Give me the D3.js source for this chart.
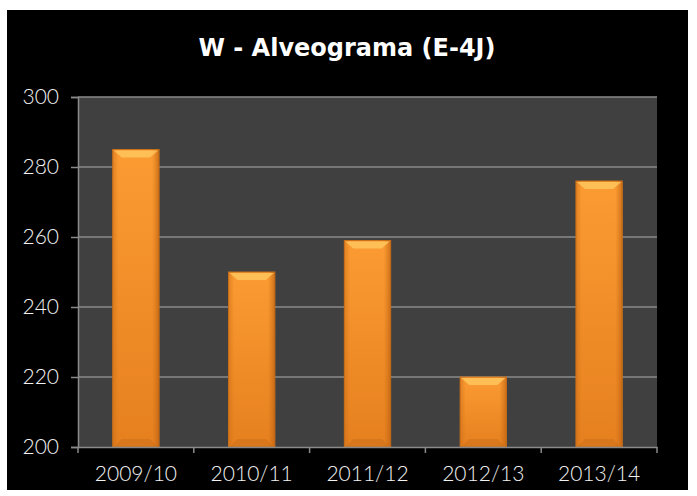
<!DOCTYPE html>
<html>
<head>
<meta charset="utf-8">
<script src="https://cdn.jsdelivr.net/npm/d3@7"></script>
<style>
  body { margin: 0; background: #ffffff; }
  text { font-family: "Lato", "DejaVu Sans", sans-serif; }
</style>
</head>
<body>
<div id="chart"></div>
<script>
// chart data
var seasons = ["2009/10", "2010/11", "2011/12", "2012/13", "2013/14"];
var wValues = [285, 250, 259, 220, 276];
var yTicks = [200, 220, 240, 260, 280, 300];

var w = 697;
var h = 496;
var plotLeft = 78, plotRight = 657, plotTop = 97, plotBottom = 447;

var svg = d3
  .select("#chart")
  .append("svg")
  .attr("width", w)
  .attr("height", h);

// black panel
svg
  .append("rect")
  .attr("x", 7)
  .attr("y", 10)
  .attr("width", 681)
  .attr("height", 480)
  .attr("fill", "#000000");

var xScale = d3
  .scaleBand()
  .domain(seasons)
  .range([plotLeft, plotRight])
  .paddingInner(0.6)
  .paddingOuter(0.3);
var yScale = d3.scaleLinear().domain([200, 300]).range([plotBottom, plotTop]);

// plot area
svg
  .append("rect")
  .attr("x", plotLeft)
  .attr("y", plotTop)
  .attr("width", plotRight - plotLeft)
  .attr("height", plotBottom - plotTop)
  .attr("fill", "#404040");

// gridlines
svg
  .selectAll(".grid")
  .data(yTicks.slice(1))
  .enter()
  .append("line")
  .attr("class", "grid")
  .attr("x1", plotLeft)
  .attr("x2", plotRight)
  .attr("y1", function (d) { return yScale(d); })
  .attr("y2", function (d) { return yScale(d); })
  .attr("stroke", "#8a8a8a")
  .attr("stroke-width", 1.5);

// gradients
var defs = svg.append("defs");
var grad = defs
  .append("linearGradient")
  .attr("id", "barGrad")
  .attr("x1", 0).attr("y1", 0).attr("x2", 0).attr("y2", 1);
grad.append("stop").attr("offset", "0%").attr("stop-color", "#fb9b32");
grad.append("stop").attr("offset", "100%").attr("stop-color", "#e6801f");

var sideGrad = defs
  .append("linearGradient")
  .attr("id", "sideGrad")
  .attr("x1", 0).attr("y1", 0).attr("x2", 1).attr("y2", 0);
sideGrad.append("stop").attr("offset", "0%").attr("stop-color", "#c86a14").attr("stop-opacity", 0.5);
sideGrad.append("stop").attr("offset", "12%").attr("stop-color", "#c86a14").attr("stop-opacity", 0);
sideGrad.append("stop").attr("offset", "85%").attr("stop-color", "#c86a14").attr("stop-opacity", 0);
sideGrad.append("stop").attr("offset", "100%").attr("stop-color", "#b85e10").attr("stop-opacity", 0.7);

var bars = svg
  .selectAll(".bar")
  .data(seasons)
  .enter()
  .append("g")
  .attr("class", "bar");

bars
  .append("rect")
  .attr("x", function (d) { return xScale(d); })
  .attr("y", function (d, i) { return yScale(wValues[i]); })
  .attr("width", xScale.bandwidth())
  .attr("height", function (d, i) { return plotBottom - yScale(wValues[i]); })
  .attr("fill", "url(#barGrad)")
  .attr("stroke", "#c8701a")
  .attr("stroke-width", 1);

bars
  .append("rect")
  .attr("x", function (d) { return xScale(d); })
  .attr("y", function (d, i) { return yScale(wValues[i]); })
  .attr("width", xScale.bandwidth())
  .attr("height", function (d, i) { return plotBottom - yScale(wValues[i]); })
  .attr("fill", "url(#sideGrad)");

// top bevel
bars
  .append("polygon")
  .attr("points", function (d, i) {
    var x0 = xScale(d), x1 = x0 + xScale.bandwidth(), y0 = yScale(wValues[i]);
    return [[x0 + 1, y0 + 1], [x1 - 1, y0 + 1], [x1 - 9, y0 + 8], [x0 + 9, y0 + 8]].join(" ");
  })
  .attr("fill", "#ffc860")
  .attr("opacity", 0.8);

// bottom bevel
bars
  .append("polygon")
  .attr("points", function (d) {
    var x0 = xScale(d), x1 = x0 + xScale.bandwidth();
    return [[x0 + 1, plotBottom], [x1 - 1, plotBottom], [x1 - 9, plotBottom - 8], [x0 + 9, plotBottom - 8]].join(" ");
  })
  .attr("fill", "#c96e18")
  .attr("opacity", 0.5);

// axes
var xAxis = svg
  .append("g")
  .attr("transform", "translate(0," + plotBottom + ")")
  .call(d3.axisBottom(xScale).tickSize(0).tickPadding(19));
xAxis.select(".domain").attr("stroke", "#8a8a8a").attr("stroke-width", 1.5);
xAxis
  .selectAll("text")
  .attr("fill", "#f2f2f2")
  .style("font-size", "21px")
  .style("font-weight", "300");

// boundary ticks between categories
svg
  .selectAll(".xtick")
  .data(d3.range(seasons.length + 1))
  .enter()
  .append("line")
  .attr("class", "xtick")
  .attr("x1", function (i) { return plotLeft + i * xScale.step(); })
  .attr("x2", function (i) { return plotLeft + i * xScale.step(); })
  .attr("y1", plotBottom)
  .attr("y2", plotBottom + 6)
  .attr("stroke", "#8a8a8a")
  .attr("stroke-width", 1.5);

var yAxis = svg
  .append("g")
  .attr("transform", "translate(" + plotLeft + ",0)")
  .call(d3.axisLeft(yScale).tickValues(yTicks).tickSize(7).tickPadding(12));
yAxis.select(".domain").attr("stroke", "#8a8a8a").attr("stroke-width", 1.5);
yAxis.selectAll("line").attr("stroke", "#8a8a8a").attr("stroke-width", 1.5);
yAxis
  .selectAll("text")
  .attr("fill", "#f2f2f2")
  .style("font-size", "21px")
  .style("font-weight", "300");

// title
svg
  .append("text")
  .attr("x", 347)
  .attr("y", 56)
  .attr("text-anchor", "middle")
  .attr("fill", "#ffffff")
  .style("font-family", "'DejaVu Sans', sans-serif")
  .style("font-size", "24px")
  .style("font-weight", "bold")
  .text("W - Alveograma (E-4J)");
</script>
</body>
</html>
